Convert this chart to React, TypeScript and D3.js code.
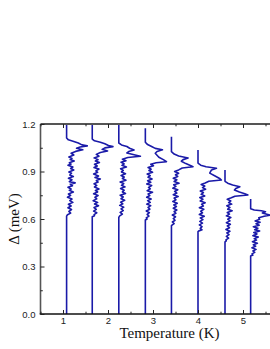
import * as d3 from 'd3';
import { useRef, useEffect } from 'react';

// RENDERING SETUP
const W = 270;
const H = 349;
const PLOT = { LEFT: 40.5, TOP: 124, BOTTOM: 314 };
const PX_PER_K = 45;
const LINE_COLOR = '#1a1aa8';
const AXIS_COLOR = '#555';
const SERIF = '"Liberation Serif", "Times New Roman", Times, serif';
const SANS = '"Liberation Sans", Arial, Helvetica, sans-serif';

// DATA
const X_TICKS = [1, 2, 3, 4, 5];
const X_MINOR = [0.5, 1.5, 2.5, 3.5, 4.5, 5.5];
const Y_TICKS = [0, 0.3, 0.6, 0.9, 1.2];
const Y_MINOR = [0.15, 0.45, 0.75, 1.05];

// temperature of each spectrum (K)
const TEMPS = [1.08, 1.65, 2.24, 2.83, 3.41, 4.0, 4.6, 5.17];

// [gap energy (meV), horizontal offset from the curve's temperature (K)]
const CURVE_1 = [
  [1.2, 0], [1.112, 0], [1.1, 0.04], [1.09, 0.16], [1.08, 0.26], [1.068, 0.34], [1.062, 0.46],
  [1.055, 0.3], [1.047, 0.22], [1.037, 0.36], [1.027, 0.2], [1.015, 0.1], [1.004, 0.16],
  [0.992, 0.05], [0.983, 0.12], [0.976, 0.08], [0.966, 0.17], [0.955, 0.06], [0.947, 0.1],
  [0.94, 0.03], [0.928, 0.14], [0.919, 0.09], [0.91, 0.16], [0.897, 0.05], [0.889, 0.11],
  [0.878, 0.07], [0.868, 0.15], [0.857, 0.04], [0.848, 0.12], [0.836, 0.06], [0.828, 0.19],
  [0.82, 0.08], [0.81, 0.13], [0.8, 0.03], [0.789, 0.1], [0.781, 0.06], [0.77, 0.15],
  [0.758, 0.04], [0.749, 0.09], [0.737, 0.02], [0.726, 0.12], [0.716, 0.07], [0.705, 0.14],
  [0.693, 0.04], [0.682, 0.1], [0.671, 0.03], [0.66, 0.11], [0.648, 0.05], [0.637, 0.09],
  [0.627, 0.02], [0.618, 0], [0, 0],
];
const CURVE_2 = [
  [1.2, 0], [1.105, 0], [1.094, 0.05], [1.085, 0.18], [1.075, 0.28], [1.064, 0.36], [1.057, 0.46],
  [1.049, 0.28], [1.04, 0.22], [1.03, 0.34], [1.02, 0.18], [1.008, 0.09], [0.997, 0.15],
  [0.986, 0.04], [0.975, 0.13], [0.966, 0.07], [0.957, 0.16], [0.946, 0.05], [0.935, 0.11],
  [0.925, 0.04], [0.915, 0.15], [0.904, 0.08], [0.895, 0.12], [0.884, 0.03], [0.872, 0.14],
  [0.862, 0.06], [0.852, 0.18], [0.843, 0.09], [0.833, 0.13], [0.822, 0.04], [0.812, 0.1],
  [0.802, 0.05], [0.79, 0.15], [0.78, 0.07], [0.771, 0.12], [0.759, 0.03], [0.748, 0.13],
  [0.737, 0.06], [0.727, 0.1], [0.716, 0.02], [0.705, 0.12], [0.695, 0.05], [0.684, 0.14],
  [0.672, 0.04], [0.661, 0.09], [0.65, 0.03], [0.639, 0.1], [0.628, 0.04], [0.62, 0.05],
  [0.614, 0], [0, 0],
];
const CURVE_3 = [
  [1.2, 0], [1.08, 0], [1.068, 0.06], [1.058, 0.18], [1.047, 0.24], [1.036, 0.34], [1.026, 0.22],
  [1.017, 0.18], [1.006, 0.34], [0.996, 0.48], [0.988, 0.2], [0.978, 0.08],
  [0.968, 0.16], [0.958, 0.05], [0.948, 0.12], [0.939, 0.07], [0.928, 0.17], [0.917, 0.04],
  [0.907, 0.1], [0.897, 0.06], [0.886, 0.15], [0.875, 0.05], [0.865, 0.12], [0.856, 0.08],
  [0.845, 0.16], [0.834, 0.03], [0.824, 0.11], [0.813, 0.06], [0.803, 0.14], [0.792, 0.04],
  [0.782, 0.12], [0.771, 0.08], [0.761, 0.15], [0.75, 0.03], [0.739, 0.1], [0.728, 0.05],
  [0.718, 0.13], [0.706, 0.04], [0.696, 0.09], [0.686, 0.02], [0.675, 0.11], [0.664, 0.05],
  [0.653, 0.1], [0.642, 0.03], [0.631, 0.08], [0.62, 0.02], [0.61, 0], [0, 0],
];
const CURVE_4 = [
  [1.173, 0], [1.085, 0], [1.07, 0.05], [1.056, 0.15], [1.046, 0.22], [1.037, 0.38], [1.026, 0.26],
  [1.015, 0.22], [0.99, 0.3], [0.975, 0.4], [0.962, 0.47], [0.955, 0.24], [0.946, 0.12],
  [0.936, 0.18], [0.925, 0.06], [0.915, 0.13], [0.906, 0.08], [0.895, 0.16], [0.884, 0.04],
  [0.874, 0.11], [0.864, 0.06], [0.853, 0.15], [0.842, 0.05], [0.832, 0.12], [0.821, 0.03],
  [0.811, 0.14], [0.8, 0.07], [0.79, 0.11], [0.779, 0.04], [0.769, 0.16], [0.758, 0.06],
  [0.748, 0.1], [0.737, 0.03], [0.726, 0.13], [0.716, 0.05], [0.705, 0.11], [0.694, 0.03],
  [0.684, 0.12], [0.673, 0.06], [0.662, 0.1], [0.651, 0.02], [0.64, 0.09], [0.629, 0.04],
  [0.618, 0.08], [0.607, 0.02], [0.6, 0.04], [0.594, 0], [0, 0],
];
const CURVE_5 = [
  [1.12, 0], [1.025, 0], [1.01, 0.06], [0.998, 0.16], [0.985, 0.37], [0.975, 0.26], [0.965, 0.22],
  [0.95, 0.32], [0.938, 0.42], [0.93, 0.48], [0.922, 0.24], [0.91, 0.16],
  [0.9, 0.07], [0.889, 0.16], [0.879, 0.09], [0.869, 0.14], [0.858, 0.04], [0.848, 0.12],
  [0.837, 0.06], [0.826, 0.17], [0.816, 0.05], [0.806, 0.1], [0.795, 0.03], [0.785, 0.14],
  [0.774, 0.07], [0.764, 0.12], [0.753, 0.04], [0.742, 0.15], [0.732, 0.06], [0.721, 0.1],
  [0.711, 0.03], [0.7, 0.13], [0.689, 0.05], [0.679, 0.11], [0.668, 0.04], [0.657, 0.12],
  [0.647, 0.06], [0.636, 0.1], [0.625, 0.02], [0.614, 0.09], [0.603, 0.04], [0.592, 0.08],
  [0.581, 0.02], [0.571, 0.06], [0.563, 0.02], [0.558, 0], [0, 0],
];
const CURVE_6 = [
  [1.036, 0], [0.953, 0], [0.94, 0.06], [0.93, 0.18], [0.92, 0.41], [0.91, 0.3], [0.89, 0.26],
  [0.872, 0.38], [0.856, 0.48], [0.846, 0.52], [0.838, 0.24], [0.828, 0.16],
  [0.818, 0.07], [0.808, 0.15], [0.798, 0.1], [0.788, 0.17], [0.777, 0.05], [0.767, 0.12],
  [0.756, 0.07], [0.746, 0.15], [0.735, 0.04], [0.725, 0.11], [0.714, 0.05], [0.703, 0.16],
  [0.693, 0.08], [0.682, 0.12], [0.671, 0.03], [0.661, 0.13], [0.65, 0.06], [0.639, 0.1],
  [0.628, 0.03], [0.617, 0.14], [0.607, 0.05], [0.596, 0.11], [0.585, 0.04], [0.574, 0.1],
  [0.563, 0.03], [0.552, 0.09], [0.541, 0.05], [0.532, 0.09], [0.525, 0.02], [0.52, 0], [0, 0],
];
const CURVE_7 = [
  [0.91, 0], [0.838, 0], [0.826, 0.06], [0.815, 0.17], [0.804, 0.33], [0.793, 0.24], [0.783, 0.21],
  [0.77, 0.32], [0.76, 0.44], [0.752, 0.51], [0.744, 0.22], [0.734, 0.14],
  [0.724, 0.05], [0.714, 0.13], [0.704, 0.08], [0.694, 0.15], [0.683, 0.04], [0.673, 0.11],
  [0.662, 0.06], [0.652, 0.16], [0.641, 0.05], [0.631, 0.1], [0.62, 0.03], [0.609, 0.13],
  [0.599, 0.06], [0.588, 0.11], [0.577, 0.03], [0.567, 0.12], [0.556, 0.05], [0.545, 0.1],
  [0.534, 0.02], [0.523, 0.11], [0.512, 0.04], [0.501, 0.09], [0.49, 0.03], [0.479, 0.08],
  [0.468, 0.02], [0.462, 0.03], [0.456, 0], [0, 0],
];
const CURVE_8 = [
  [0.726, 0], [0.665, 0], [0.657, 0.08], [0.652, 0.24], [0.646, 0.33], [0.638, 0.26], [0.63, 0.36],
  [0.624, 0.43], [0.617, 0.3], [0.608, 0.18], [0.598, 0.2], [0.588, 0.1],
  [0.579, 0.21], [0.57, 0.12], [0.561, 0.19], [0.551, 0.06], [0.542, 0.16], [0.533, 0.09],
  [0.524, 0.2], [0.514, 0.07], [0.505, 0.14], [0.495, 0.05], [0.486, 0.17], [0.476, 0.08],
  [0.467, 0.13], [0.457, 0.04], [0.447, 0.15], [0.437, 0.06], [0.428, 0.11], [0.418, 0.03],
  [0.408, 0.12], [0.398, 0.05], [0.389, 0.09], [0.38, 0.03], [0.372, 0.05], [0.366, 0], [0, 0],
];
const CURVES = [CURVE_1, CURVE_2, CURVE_3, CURVE_4, CURVE_5, CURVE_6, CURVE_7, CURVE_8];

const x = d3
  .scaleLinear()
  .domain([0.5, 6.0])
  .range([PLOT.LEFT, PLOT.LEFT + 5.5 * PX_PER_K]);
const y = d3.scaleLinear().domain([0, 1.2]).range([PLOT.BOTTOM, PLOT.TOP]);

const App = () => {
  const xAxisRef = useRef<SVGGElement>(null);
  const xMinorRef = useRef<SVGGElement>(null);
  const topAxisRef = useRef<SVGGElement>(null);
  const topMinorRef = useRef<SVGGElement>(null);
  const yAxisRef = useRef<SVGGElement>(null);
  const yMinorRef = useRef<SVGGElement>(null);

  useEffect(() => {
    const tickStyle = (g) => {
      g.select('.domain').remove();
      g.selectAll('line').attr('stroke', '#222').attr('stroke-width', 1);
      g.selectAll('text')
        .attr('fill', '#222')
        .attr('font-family', SANS)
        .attr('font-size', 9.5);
    };

    d3.select(xAxisRef.current)
      .call(d3.axisBottom(x).tickValues(X_TICKS).tickSize(-4).tickPadding(3.3).tickFormat(d3.format('d')))
      .call(tickStyle);
    d3.select(xMinorRef.current)
      .call(d3.axisBottom(x).tickValues(X_MINOR).tickSize(-2.3).tickFormat(() => ''))
      .call(tickStyle);
    d3.select(topAxisRef.current)
      .call(d3.axisTop(x).tickValues(X_TICKS).tickSize(-4).tickFormat(() => ''))
      .call(tickStyle);
    d3.select(topMinorRef.current)
      .call(d3.axisTop(x).tickValues(X_MINOR).tickSize(-2.3).tickFormat(() => ''))
      .call(tickStyle);
    d3.select(yAxisRef.current)
      .call(d3.axisLeft(y).tickValues(Y_TICKS).tickSize(-4).tickPadding(5).tickFormat(d3.format('.1f')))
      .call(tickStyle);
    d3.select(yMinorRef.current)
      .call(d3.axisLeft(y).tickValues(Y_MINOR).tickSize(-2.3).tickFormat(() => ''))
      .call(tickStyle);
  }, []);

  const line = (t: number) =>
    d3
      .line<number[]>()
      .x((d) => x(t + d[1]))
      .y((d) => y(d[0]));

  return (
    <svg
      width={W}
      height={H}
      style={{ position: 'absolute', left: 0, top: 0, display: 'block', background: '#fff' }}
    >
      <defs>
        <clipPath id="plot-clip">
          <rect x={PLOT.LEFT} y={PLOT.TOP - 2} width={W - PLOT.LEFT} height={PLOT.BOTTOM - PLOT.TOP + 2} />
        </clipPath>
      </defs>

      <g clipPath="url(#plot-clip)">
        {CURVES.map((c, i) => (
          <path
            key={i}
            d={line(TEMPS[i])(c) ?? ''}
            fill="none"
            stroke={LINE_COLOR}
            strokeWidth={1.6}
            strokeLinejoin="round"
          />
        ))}
      </g>

      {/* frame */}
      <line x1={PLOT.LEFT} x2={W} y1={PLOT.TOP} y2={PLOT.TOP} stroke={AXIS_COLOR} strokeWidth={1.8} />
      <line x1={PLOT.LEFT} x2={PLOT.LEFT} y1={PLOT.TOP} y2={PLOT.BOTTOM} stroke={AXIS_COLOR} strokeWidth={1.6} />
      <line x1={PLOT.LEFT - 0.8} x2={W} y1={PLOT.BOTTOM} y2={PLOT.BOTTOM} stroke="#111" strokeWidth={1.6} />

      <g ref={xAxisRef} transform={`translate(0,${PLOT.BOTTOM})`} />
      <g ref={xMinorRef} transform={`translate(0,${PLOT.BOTTOM})`} />
      <g ref={topAxisRef} transform={`translate(0,${PLOT.TOP})`} />
      <g ref={topMinorRef} transform={`translate(0,${PLOT.TOP})`} />
      <g ref={yAxisRef} transform={`translate(${PLOT.LEFT},0)`} />
      <g ref={yMinorRef} transform={`translate(${PLOT.LEFT},0)`} />

      <text
        transform={`translate(18.5,${(PLOT.TOP + PLOT.BOTTOM) / 2}) rotate(-90)`}
        textAnchor="middle"
        fontFamily={SERIF}
        fontSize={15}
        fill="#111"
      >
        Δ (meV)
      </text>
      <text x={169.5} y={338} textAnchor="middle" fontFamily={SERIF} fontSize={15} fill="#111">
        Temperature (K)
      </text>
    </svg>
  );
};

export default App;
